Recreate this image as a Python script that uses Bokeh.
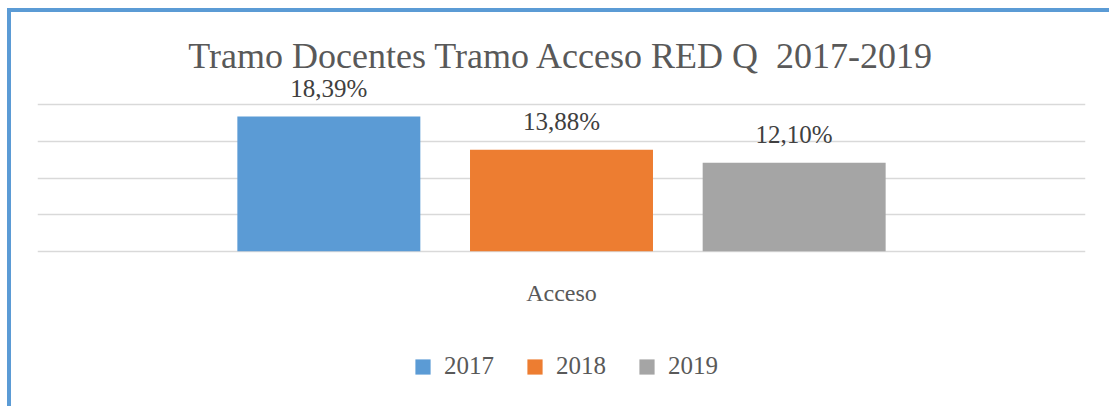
from bokeh.plotting import figure
from bokeh.models import (ColumnDataSource, FactorRange, Range1d, LabelSet, Legend,
                          LegendItem, Spacer)
from bokeh.layouts import row, column
from bokeh.transform import dodge
from bokeh.embed import file_html
from bokeh.resources import INLINE

category = ["Acceso"]
years = ["2017", "2018", "2019"]
values = [18.39, 13.88, 12.10]
colors = ["#5B9BD5", "#ED7D31", "#A5A5A5"]
title_text = "Tramo Docentes Tramo Acceso RED Q\u00a0 2017-2019"

FONT = "Liberation Serif"
FRAME_BLUE = "#5B9BD5"

# ---------------- main chart ----------------
p = figure(frame_width=1048, frame_height=178, x_range=FactorRange(*category, range_padding=0),
           y_range=Range1d(-0.3, 24.0), output_backend="svg", toolbar_location=None,
           min_border_left=26, min_border_right=24, min_border_top=63, min_border_bottom=70)

p.title.text = title_text
p.title.align = "center"
p.title.text_font = FONT
p.title.text_font_size = "36px"
p.title.text_font_style = "normal"
p.title.text_color = "#595959"
p.title.standoff = 0

offsets = [-0.222, 0.0, 0.222]
for yr, v, c, off in zip(years, values, colors, offsets):
    src = ColumnDataSource(dict(cat=category, val=[v], lab=[f"{v:.2f}".replace(".", ",") + "%"]))
    p.vbar(x=dodge("cat", off, range=p.x_range), top="val", width=0.1746, source=src,
           fill_color=c, line_color=None)
    p.add_layout(LabelSet(x=dodge("cat", off, range=p.x_range), y="val", text="lab", source=src,
                          text_align="center", text_baseline="alphabetic", y_offset=20,
                          text_font=FONT, text_font_size="25px", text_color="#404040"))

p.outline_line_color = None
p.background_fill_color = "white"
p.border_fill_color = "white"
p.xgrid.grid_line_color = None
p.ygrid.grid_line_color = "#D9D9D9"
p.ygrid.grid_line_width = 1.5
p.yaxis.visible = False
p.yaxis.ticker = [0, 5, 10, 15, 20]
p.ygrid.ticker = [0, 5, 10, 15, 20]

p.xaxis.axis_line_color = None
p.xaxis.major_tick_line_color = None
p.xaxis.minor_tick_line_color = None
p.xaxis.major_label_text_font = FONT
p.xaxis.major_label_text_font_size = "24px"
p.xaxis.major_label_text_color = "#595959"
p.xaxis.major_label_standoff = 20

# ---------------- legend strip ----------------
lg = figure(width=1098, height=83, x_range=Range1d(0, 1), y_range=Range1d(0, 1),
            output_backend="svg", toolbar_location=None, min_border=0)
lg.axis.visible = False
lg.grid.grid_line_color = None
lg.outline_line_color = None
lg.background_fill_color = "white"
lg.border_fill_color = "white"
items = []
for yr, c in zip(years, colors):
    # swatch renderer kept outside the visible range: only its legend glyph shows
    r = lg.vbar(x=[-10], top=[-10], bottom=[-11], width=0.1, fill_color=c, line_color=None)
    items.append(LegendItem(label=yr, renderers=[r]))
legend = Legend(items=items, orientation="horizontal", location=(376, 26),
                label_text_font=FONT, label_text_font_size="25px", label_text_color="#595959",
                glyph_width=19, glyph_height=19, label_standoff=12, spacing=31,
                border_line_color=None, background_fill_alpha=0, margin=0, padding=0)
lg.add_layout(legend, "center")

# ---------------- chart frame (blue left / top edges) ----------------
top_edge = Spacer(width=1102, height=4, styles={"background-color": FRAME_BLUE})
left_edge = Spacer(width=4, height=394, styles={"background-color": FRAME_BLUE})

layout = row(Spacer(width=7, height=406),
             column(Spacer(width=1102, height=8), top_edge,
                    row(left_edge, column(p, lg, spacing=0), spacing=0), spacing=0),
             spacing=0)

open("out.html", "w").write(file_html(layout, INLINE))
